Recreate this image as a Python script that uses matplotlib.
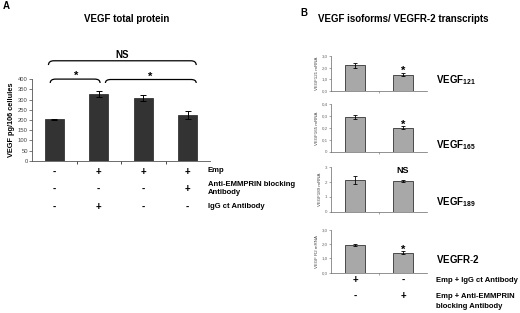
import matplotlib
matplotlib.use("Agg")
from matplotlib import pyplot as plt
from matplotlib.path import Path
from matplotlib.patches import PathPatch

plt.rcParams['font.family'] = ['Liberation Sans', 'DejaVu Sans']
plt.rcParams['mathtext.fontset'] = 'custom'
plt.rcParams['mathtext.rm'] = 'Liberation Sans'
plt.rcParams['mathtext.bf'] = 'Liberation Sans:bold'

# panel A data
a_values = [203, 328, 310, 224]
a_errors = [4, 16, 15, 19]
a_yticks = [0, 50, 100, 150, 200, 250, 300, 350, 400]
a_rows = [
    ["-", "+", "+", "+"],
    ["-", "-", "-", "+"],
    ["-", "+", "-", "-"],
]

# panel B data
b_labels = [r"$\mathbf{VEGF_{121}}$", r"$\mathbf{VEGF_{165}}$",
            r"$\mathbf{VEGF_{189}}$", r"$\mathbf{VEGFR}$-$\mathbf{2}$"]
b_ylabels = ["VEGF121 mRNA", "VEGF165 mRNA", "VEGF189 mRNA", "VEGF R2 mRNA"]
b_values = [[2.2, 1.4], [0.29, 0.20], [2.14, 2.05], [1.95, 1.4]]
b_errors = [[0.2, 0.12], [0.015, 0.012], [0.3, 0.06], [0.06, 0.1]]
b_ymax = [3.0, 0.4, 3.0, 3.0]
b_yticks = [[0, 1, 2, 3], [0, 0.1, 0.2, 0.3, 0.4], [0, 1, 2, 3], [0, 1, 2, 3]]
b_yticklabels = [["0,0", "1,0", "2,0", "3,0"], ["0", "0,1", "0,2", "0,3", "0,4"],
                 ["0", "1", "2", "3"], ["0,0", "1,0", "2,0", "3,0"]]
b_marks = ["*", "*", "NS", "*"]
b_rows = [["+", "-"], ["-", "+"]]

W, H = 520, 313
fig = plt.figure(figsize=(W / 100, H / 100), dpi=100)


def rect(l, t, r, b):
    return [l / W, 1 - b / H, (r - l) / W, (b - t) / H]


def ftext(x, y, s, **kw):
    fig.text(x / W, 1 - y / H, s, **kw)


# ---------- panel A ----------
ftext(3, 6, "A", fontsize=7, fontweight='bold', va='center')
ftext(127, 19, "VEGF total protein", fontsize=7, fontweight='bold', ha='center', va='center')

ax = fig.add_axes(rect(32, 79.3, 210, 160.7))
xs = range(len(a_values))
ax.bar(xs, a_values, width=0.43, color='#333333', edgecolor='#222222', linewidth=0.5)
ax.errorbar(xs, a_values, yerr=a_errors, fmt='none', ecolor='black',
            elinewidth=0.7, capsize=2, capthick=0.7)
ax.set_xlim(-0.5, 3.5)
ax.set_ylim(0, 400)
ax.set_yticks(a_yticks)
ax.tick_params(axis='y', labelsize=4.2, length=2, width=0.5, pad=1, colors='#444444')
ax.set_xticks([0.5, 1.5, 2.5])
ax.set_xticklabels([])
ax.tick_params(axis='x', length=2, width=0.5)
for s in ['top', 'right']:
    ax.spines[s].set_visible(False)
for s in ['left', 'bottom']:
    ax.spines[s].set_linewidth(0.6)
    ax.spines[s].set_color('#555555')
ax.set_ylabel("VEGF pg/106 cellules", fontsize=5.3, fontweight='bold', labelpad=2)


def brace(x0, x1, ytop, ylow, dx=0.12):
    verts = [(x0, ylow), (x0, ytop), (x0 + dx, ytop), (x1 - dx, ytop),
             (x1, ytop), (x1, ylow)]
    codes = [Path.MOVETO, Path.CURVE3, Path.CURVE3, Path.LINETO, Path.CURVE3, Path.CURVE3]
    ax.add_patch(PathPatch(Path(verts, codes), fill=False, lw=0.9,
                           edgecolor='black', clip_on=False))


brace(-0.13, 3.19, 491, 470)
brace(-0.09, 1.03, 401, 382)
brace(1.15, 3.19, 399, 382)
ax.text(1.53, 520, "NS", fontsize=7, fontweight='bold', ha='center', va='center', clip_on=False)
ax.text(0.5, 418, "*", fontsize=8, fontweight='bold', ha='center', va='center', clip_on=False)
ax.text(2.15, 412, "*", fontsize=8, fontweight='bold', ha='center', va='center', clip_on=False)

row_y = [172, 189, 207]
for row, y in zip(a_rows, row_y):
    for i, s in enumerate(row):
        ftext(54 + 44.5 * i, y, s, fontsize=7, fontweight='bold', ha='center', va='center')
ftext(208, 171, "Emp", fontsize=5.5, fontweight='bold', va='center')
ftext(208, 184, "Anti-EMMPRIN blocking", fontsize=5.5, fontweight='bold', va='center')
ftext(208, 193, "Antibody", fontsize=5.5, fontweight='bold', va='center')
ftext(208, 207, "IgG ct Antibody", fontsize=5.5, fontweight='bold', va='center')

# ---------- panel B ----------
ftext(300, 13, "B", fontsize=7, fontweight='bold', va='center')
ftext(403, 19, "VEGF isoforms/ VEGFR-2 transcripts", fontsize=7, fontweight='bold',
      ha='center', va='center')

b_boxes = [(56, 90.7), (104, 151.7), (167.3, 211.7), (230, 272.7)]
b_label_y = [80, 145, 202, 259]
for k, (t, b) in enumerate(b_boxes):
    bx = fig.add_axes(rect(331, t, 427, b))
    bx.bar([0, 1], b_values[k], width=0.42, color='#a8a8a8', edgecolor='#333333', linewidth=0.6)
    bx.errorbar([0, 1], b_values[k], yerr=b_errors[k], fmt='none', ecolor='black',
                elinewidth=0.6, capsize=1.5, capthick=0.6)
    bx.set_xlim(-0.5, 1.5)
    bx.set_ylim(0, b_ymax[k])
    bx.set_yticks(b_yticks[k])
    bx.set_yticklabels(b_yticklabels[k])
    bx.tick_params(axis='y', labelsize=3.2, length=1.5, width=0.4, pad=1, colors='#666666')
    bx.set_xticks([0.5])
    bx.set_xticklabels([])
    bx.tick_params(axis='x', length=1.5, width=0.4, colors='#666666')
    for s in ['top', 'right']:
        bx.spines[s].set_visible(False)
    for s in ['left', 'bottom']:
        bx.spines[s].set_linewidth(0.5)
        bx.spines[s].set_color('#666666')
    bx.set_ylabel(b_ylabels[k], fontsize=3.2, labelpad=2, color='#444444')
    top = b_values[k][1] + b_errors[k][1]
    if b_marks[k] == "NS":
        bx.text(1, top + b_ymax[k] * 0.12, "NS", fontsize=6.5, fontweight='bold',
                ha='center', va='bottom', clip_on=False)
    else:
        bx.text(1, top - b_ymax[k] * 0.08, "*", fontsize=8, fontweight='bold',
                ha='center', va='bottom', clip_on=False)
    ftext(436, b_label_y[k], b_labels[k], fontsize=7, va='center')

for row, y in zip(b_rows, [280, 296]):
    for i, s in enumerate(row):
        ftext(355 + 48 * i, y, s, fontsize=7, fontweight='bold', ha='center', va='center')
ftext(436, 281, "Emp + IgG ct Antibody", fontsize=5.5, fontweight='bold', va='center')
ftext(436, 296, "Emp + Anti-EMMPRIN", fontsize=5.5, fontweight='bold', va='center')
ftext(436, 307, "blocking Antibody", fontsize=5.5, fontweight='bold', va='center')

fig.savefig("out.png", dpi=100)
